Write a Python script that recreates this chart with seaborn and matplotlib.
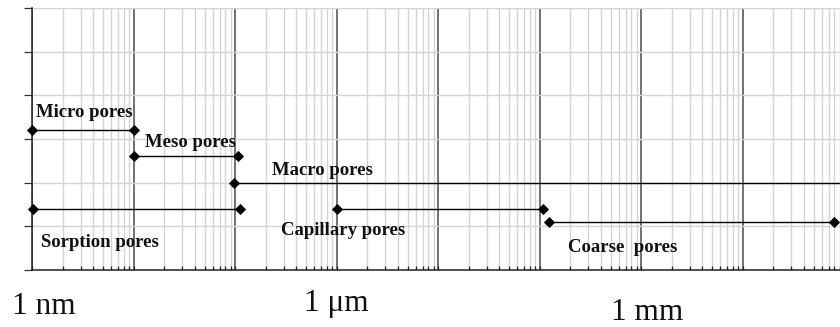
import matplotlib
matplotlib.use("Agg")
import matplotlib.pyplot as plt
import matplotlib.transforms as mtransforms
from matplotlib.ticker import LogLocator, NullFormatter, FixedLocator
import pandas as pd
import seaborn as sns

# Pore size classes: horizontal ranges (in metres) at their own level
pore_classes = ["Micro pores", "Meso pores", "Macro pores",
                "Sorption pores", "Capillary pores", "Coarse  pores"]
size_from = [1.0e-9, 1.0e-8, 0.96e-7, 1.02e-9, 1.0e-6, 1.23e-4]
size_to = [1.0e-8, 1.06e-7, 1.0, 1.12e-7, 1.07e-4, 8.0e-2]
level = [3.2, 2.6, 2.0, 1.4, 1.4, 1.1]

# Unit marks written under the axis
unit_labels = ["1 nm", "1 \u03bcm", "1 mm"]
unit_sizes = [1e-9, 1e-6, 1e-3]

# Label placement relative to each range start (pixels)
label_offsets = [(4, 13), (11, 9), (38, 8), (8, -38), (-56, -26), (19, -30)]
unit_offsets = [(12, -44), (0, -41), (6, -50)]

sns.set_style("white")
plt.rcParams["font.family"] = ["Liberation Serif", "DejaVu Serif"]

rows = []
for name, x0, x1, y in zip(pore_classes, size_from, size_to, level):
    rows.append({"pore": name, "size": x0, "level": y, "order": 0})
    rows.append({"pore": name, "size": x1, "level": y, "order": 1})
df = pd.DataFrame(rows)

fig = plt.figure(figsize=(8.4, 3.27), dpi=100)
ax = fig.add_axes([32.3 / 840, 57 / 327, 1 - 32.3 / 840, 262 / 327])
ax.set_xscale("log")

sns.lineplot(data=df, x="size", y="level", units="pore", estimator=None,
             sort=False, color="black", linewidth=1.0, marker="D",
             markersize=4.8, markeredgewidth=0.6, markeredgecolor="black",
             legend=False, clip_on=False, zorder=3, ax=ax)

decade = 101.5
ax.set_xlim(1e-9, 10 ** (-9 + (840 - 32.3) / decade))
ax.set_ylim(0, 6)

ax.xaxis.set_major_locator(LogLocator(base=10, numticks=30))
ax.xaxis.set_minor_locator(LogLocator(base=10, subs=range(2, 10), numticks=30))
ax.xaxis.set_major_formatter(NullFormatter())
ax.xaxis.set_minor_formatter(NullFormatter())
ax.yaxis.set_major_locator(FixedLocator(range(0, 7)))
ax.yaxis.set_major_formatter(NullFormatter())

ax.set_axisbelow(True)
ax.grid(which="major", axis="x", color="#4a4a4a", linewidth=1.1)
ax.grid(which="minor", axis="x", color="#d4d4d4", linewidth=1.0)
ax.grid(which="major", axis="y", color="#d4d4d4", linewidth=1.0)

ax.tick_params(axis="x", which="both", direction="in", length=2.6,
               width=0.9, color="#222222", bottom=True, top=False)
ax.tick_params(axis="y", which="major", direction="out", length=6,
               width=0.9, color="#333333", left=True, right=False)

for side in ("top", "right"):
    ax.spines[side].set_visible(False)
for side in ("left", "bottom"):
    ax.spines[side].set_color("#222222")
    ax.spines[side].set_linewidth(1.1)

ax.set_xlabel("")
ax.set_ylabel("")

for name, x0, y, (dx, dy) in zip(pore_classes, size_from, level, label_offsets):
    ax.annotate(name, xy=(x0, y), xytext=(dx, dy), textcoords="offset pixels",
                ha="left", va="baseline", fontsize=13.5, fontweight="bold",
                color="#111111", annotation_clip=False)

trans = mtransforms.blended_transform_factory(ax.transData, ax.transAxes)
for text, xv, (dx, dy) in zip(unit_labels, unit_sizes, unit_offsets):
    ax.annotate(text, xy=(xv, 0), xycoords=trans, xytext=(dx, dy),
                textcoords="offset pixels", ha="center", va="baseline",
                fontsize=22.5, color="#111111", annotation_clip=False)

fig.savefig("out.png", dpi=100)
